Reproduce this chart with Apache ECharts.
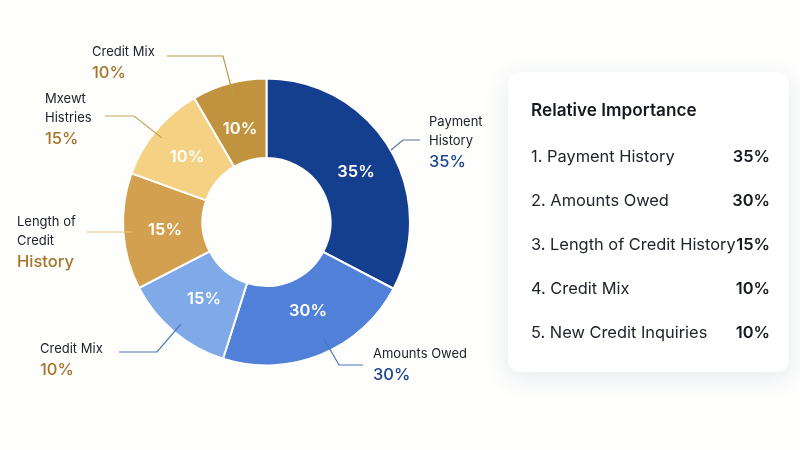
<!DOCTYPE html>
<html>
<head>
<meta charset="utf-8">
<title>Relative Importance</title>
<style>
html, body { margin: 0; padding: 0; background: #fefefd; }
#main { width: 800px; height: 450px; }
</style>
<script src="https://cdn.jsdelivr.net/npm/echarts@6/dist/echarts.min.js"></script>
</head>
<body>
<div id="main"></div>
<script>
// slice sizes as drawn (the printed figures below do not add up to 100)
var sliceShares = [32.7, 22.2, 12.5, 13.1, 11.1, 8.4];
var slicePercents = ['35%', '30%', '15%', '15%', '10%', '10%'];
var sliceNames = ['Payment\nHistory', 'Amounts Owed', 'Credit Mix', 'Length of\nCredit', 'Mxewt\nHistries', 'Credit Mix'];
var sliceFoot = ['35%', '30%', '10%', 'History', '15%', '10%'];

var panelTitle = 'Relative Importance';
var panelRows = ['1. Payment History', '2. Amounts Owed', '3. Length of Credit History', '4. Credit Mix', '5. New Credit Inquiries'];
var panelValues = ['35%', '30%', '15%', '10%', '10%'];

var colors = ['#143f8f', '#5080d8', '#80a9e8', '#d2a04e', '#f5d184', '#c2933e'];
var footColors = ['#1c448f', '#1c448f', '#a5752a', '#a5752a', '#a5752a', '#a5752a'];
var lineColors = ['#5c7396', '#4a74bd', '#4f78b8', '#e3c47f', '#c9a55c', '#b99a4c'];

// where the labels and leader lines sit
var innerPos = [[356, 172], [308, 311], [204, 299], [165, 230], [187, 157], [240, 129]];
var outerPos = [[429, 113], [373, 345], [40, 340], [17, 213], [45, 90], [92, 43]];
var leaders = [
    [[391, 150], [403, 140], [420, 140]],
    [[324, 339], [339, 365], [363, 365]],
    [[181, 324], [157, 352], [119, 352]],
    [[132, 232], [110, 232], [87, 232]],
    [[162, 138], [134, 116], [105, 116]],
    [[235, 102], [223, 56], [167, 56]]
];

var font = 'Inter';
var myChart = echarts.init(document.getElementById('main'));

var slices = sliceShares.map(function (v, i) {
    return { value: v, name: slicePercents[i], itemStyle: { color: colors[i] } };
});
var outerData = sliceShares.map(function (v, i) {
    return { value: v, name: sliceNames[i], labelLine: { lineStyle: { color: lineColors[i], width: 1.2 } } };
});

// right hand panel
var panel = [{
    type: 'rect',
    shape: { x: 508, y: 72, width: 281, height: 300, r: 12 },
    style: { fill: '#ffffff', shadowBlur: 24, shadowColor: 'rgba(70,90,130,0.13)', shadowOffsetY: 6 }
}, {
    type: 'text',
    style: { x: 531, y: 111, text: panelTitle, fill: '#15181f', font: '600 17.2px ' + font, verticalAlign: 'middle' }
}];
panelRows.forEach(function (row, i) {
    panel.push({
        type: 'text',
        style: { x: 531, y: 157 + i * 44, text: row, fill: '#20242c', font: '400 16.4px ' + font, verticalAlign: 'middle' }
    });
    panel.push({
        type: 'text',
        style: { x: 770, y: 157 + i * 44, text: panelValues[i], fill: '#15181f', font: '600 16.4px ' + font, align: 'right', verticalAlign: 'middle' }
    });
});

var option = {
    animation: false,
    backgroundColor: '#fefefd',
    graphic: panel,
    series: [{
        type: 'pie',
        silent: true,
        center: [266.5, 222],
        radius: [64, 143.5],
        startAngle: 90,
        data: slices,
        itemStyle: { borderColor: '#ffffff', borderWidth: 2 },
        label: { show: true, position: 'inside', formatter: '{b}', color: '#ffffff', fontFamily: font, fontSize: 16.5, fontWeight: 600 },
        labelLayout: function (params) {
            var p = innerPos[params.dataIndex];
            return { x: p[0], y: p[1], align: 'center', verticalAlign: 'middle' };
        }
    }, {
        type: 'pie',
        silent: true,
        z: 5,
        center: [266.5, 222],
        radius: [64, 143.5],
        startAngle: 90,
        data: outerData,
        itemStyle: { color: 'transparent' },
        label: {
            show: true,
            position: 'outside',
            formatter: function (params) {
                var i = params.dataIndex;
                return '{n|' + sliceNames[i].split('\n').join('}\n{n|') + '}\n{f' + i + '|' + sliceFoot[i] + '}';
            },
            rich: (function () {
                var rich = { n: { color: '#20242c', fontFamily: font, fontSize: 13, lineHeight: 19 } };
                sliceFoot.forEach(function (t, i) {
                    rich['f' + i] = { color: footColors[i], fontFamily: font, fontSize: 16.5, fontWeight: 500, lineHeight: 22 };
                });
                return rich;
            })()
        },
        labelLine: { show: true, lineStyle: { width: 1.2 } },
        labelLayout: function (params) {
            var i = params.dataIndex;
            return { x: outerPos[i][0], y: outerPos[i][1], align: 'left', verticalAlign: 'top', labelLinePoints: leaders[i] };
        },
        emphasis: { disabled: true }
    }]
};

myChart.setOption(option);
</script>
</body>
</html>
